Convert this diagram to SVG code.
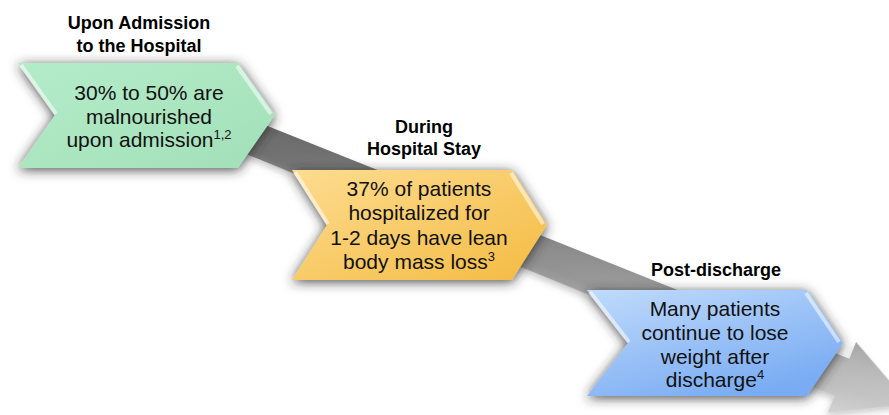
<svg xmlns="http://www.w3.org/2000/svg" width="889" height="415" viewBox="0 0 889 415">
  <style>
    .title { font-family: "Liberation Sans", Arial, sans-serif; font-size: 18px; font-weight: bold; fill: #000; text-anchor: middle; }
    .body { font-family: "Liberation Sans", Arial, sans-serif; font-size: 21px; fill: #111; text-anchor: middle; }
    .sup { font-size: 13px; }
    .bevel { fill: none; stroke: #ffffff; stroke-opacity: 0.55; stroke-width: 4; stroke-linejoin: round; }
  </style>
  <defs>
    <filter id="softShadow" x="-20%" y="-30%" width="140%" height="160%">
      <feGaussianBlur in="SourceAlpha" stdDeviation="6"/>
      <feOffset dx="0" dy="2" result="blur"/>
      <feFlood flood-color="#2a2a2a" flood-opacity="0.85"/>
      <feComposite in2="blur" operator="in"/>
      <feMerge>
        <feMergeNode/>
        <feMergeNode in="SourceGraphic"/>
      </feMerge>
    </filter>
    <filter id="arrowShadow" x="-10%" y="-30%" width="120%" height="160%">
      <feGaussianBlur in="SourceAlpha" stdDeviation="3"/>
      <feOffset dx="0" dy="4" result="blur"/>
      <feFlood flood-color="#555555" flood-opacity="0.3"/>
      <feComposite in2="blur" operator="in"/>
      <feMerge>
        <feMergeNode/>
        <feMergeNode in="SourceGraphic"/>
      </feMerge>
    </filter>
    <linearGradient id="arrowAlong" x1="0" y1="0" x2="1" y2="0">
      <stop offset="0" stop-color="#5c5c5c"/>
      <stop offset="0.5" stop-color="#8a8a8a"/>
      <stop offset="1" stop-color="#c6c6c6"/>
    </linearGradient>
    <linearGradient id="arrowAcross" x1="0" y1="0" x2="0" y2="1">
      <stop offset="0" stop-color="#000000" stop-opacity="0.12"/>
      <stop offset="0.6" stop-color="#ffffff" stop-opacity="0.05"/>
      <stop offset="1" stop-color="#ffffff" stop-opacity="0.35"/>
    </linearGradient>
    <linearGradient id="greenFill" x1="0" y1="0" x2="1" y2="1">
      <stop offset="0" stop-color="#b4ecc9"/>
      <stop offset="1" stop-color="#a2e0b9"/>
    </linearGradient>
    <linearGradient id="orangeFill" x1="0" y1="0" x2="1" y2="1">
      <stop offset="0" stop-color="#fddc90"/>
      <stop offset="1" stop-color="#f4bb42"/>
    </linearGradient>
    <linearGradient id="blueFill" x1="0" y1="0" x2="0.6" y2="1">
      <stop offset="0" stop-color="#c0dbfc"/>
      <stop offset="1" stop-color="#7aacf3"/>
    </linearGradient>
  </defs>

  <rect width="889" height="415" fill="#ffffff"/>

  <!-- connector: grey progression arrow running behind the stages -->
  <g id="connectors">
    <g transform="translate(270,127) rotate(21.8)" filter="url(#arrowShadow)">
      <path d="M-110,0 L624,0 L624,-18 L697,20 L624,58 L624,40 L-110,33 Z" fill="url(#arrowAlong)"/>
      <path d="M-110,0 L624,0 L624,-18 L697,20 L624,58 L624,40 L-110,33 Z" fill="url(#arrowAcross)"/>
    </g>
  </g>

  <!-- stage 1 -->
  <g id="admission">
    <text class="title" x="139" y="29">Upon Admission</text>
    <text class="title" x="139" y="52">to the Hospital</text>
    <polygon points="18,63 238,63 275,115 238,168 18,168 55,115" fill="url(#greenFill)" filter="url(#softShadow)"/>
    <polyline class="bevel" points="21,65 56,114"/>
    <polyline class="bevel" points="237,66 271,114"/>
    <text class="body" x="149" y="100">30% to 50% are</text>
    <text class="body" x="149" y="123.5">malnourished</text>
    <text class="body" x="149" y="147">upon admission<tspan class="sup" dy="-8">1,2</tspan></text>
  </g>

  <!-- stage 2 -->
  <g id="hospital-stay">
    <text class="title" x="424" y="133">During</text>
    <text class="title" x="424" y="155">Hospital Stay</text>
    <polygon points="292,170 512,170 547,225 512,280 292,280 327,225" fill="url(#orangeFill)" filter="url(#softShadow)"/>
    <polyline class="bevel" points="295,172 328,224"/>
    <polyline class="bevel" points="511,173 543,224"/>
    <text class="body" x="419" y="196">37% of patients</text>
    <text class="body" x="419" y="220">hospitalized for</text>
    <text class="body" x="419" y="244.5">1-2 days have lean</text>
    <text class="body" x="419" y="268.5">body mass loss<tspan class="sup" dy="-8">3</tspan></text>
  </g>

  <!-- stage 3 -->
  <g id="post-discharge">
    <text class="title" x="716" y="276">Post-discharge</text>
    <polygon points="587,290 807,290 843,343 807,396 587,396 628,343" fill="url(#blueFill)" filter="url(#softShadow)"/>
    <polyline class="bevel" points="590,292 629,342"/>
    <polyline class="bevel" points="806,293 839,342"/>
    <text class="body" x="715" y="316">Many patients</text>
    <text class="body" x="715" y="340">continue to lose</text>
    <text class="body" x="715" y="363.5">weight after</text>
    <text class="body" x="715" y="387">discharge<tspan class="sup" dy="-8">4</tspan></text>
  </g>
</svg>
